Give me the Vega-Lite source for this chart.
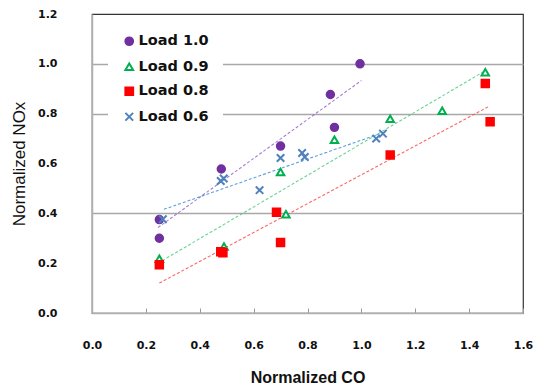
{
  "$schema": "https://vega.github.io/schema/vega-lite/v6.json",
  "autosize": {"type": "none"},
  "padding": {"left": 92, "top": 14, "right": 16, "bottom": 72},
  "width": 431,
  "height": 299,
  "background": "white",
  "config": {
    "view": {"stroke": "#333", "strokeWidth": 1.2},
    "axis": {"labelFont": "DejaVu Sans", "labelFontWeight": "bold", "labelFontSize": 11, "labelColor": "#111",
             "titleFont": "Liberation Sans", "titleFontWeight": "normal", "titleColor": "#111", "titleFontSize": 17,
             "domainColor": "#b0b0b0", "domainWidth": 1.5},
    "legend": {"orient": "none", "legendX": 16, "legendY": 6, "padding": 14, "fillColor": "white",
               "labelFont": "DejaVu Sans", "labelFontWeight": "bold", "labelFontSize": 14.5, "labelColor": "#111",
               "rowPadding": 8.5, "labelOffset": 2, "symbolSize": 60, "symbolStrokeWidth": 2}
  },
  "datasets": {
    "pts": [
      {"Load": "Load 1.0", "co": 0.25, "nox": 0.375},
      {"Load": "Load 1.0", "co": 0.25, "nox": 0.30},
      {"Load": "Load 1.0", "co": 0.48, "nox": 0.578},
      {"Load": "Load 1.0", "co": 0.70, "nox": 0.67},
      {"Load": "Load 1.0", "co": 0.885, "nox": 0.877},
      {"Load": "Load 1.0", "co": 0.90, "nox": 0.745},
      {"Load": "Load 1.0", "co": 0.995, "nox": 1.0},
      {"Load": "Load 0.9", "co": 0.25, "nox": 0.218},
      {"Load": "Load 0.9", "co": 0.49, "nox": 0.267},
      {"Load": "Load 0.9", "co": 0.70, "nox": 0.566},
      {"Load": "Load 0.9", "co": 0.72, "nox": 0.396},
      {"Load": "Load 0.9", "co": 0.90, "nox": 0.695},
      {"Load": "Load 0.9", "co": 1.107, "nox": 0.78},
      {"Load": "Load 0.9", "co": 1.30, "nox": 0.812},
      {"Load": "Load 0.9", "co": 1.46, "nox": 0.966},
      {"Load": "Load 0.8", "co": 0.25, "nox": 0.194},
      {"Load": "Load 0.8", "co": 0.478, "nox": 0.246},
      {"Load": "Load 0.8", "co": 0.486, "nox": 0.242},
      {"Load": "Load 0.8", "co": 0.685, "nox": 0.404},
      {"Load": "Load 0.8", "co": 0.70, "nox": 0.283},
      {"Load": "Load 0.8", "co": 1.107, "nox": 0.634},
      {"Load": "Load 0.8", "co": 1.46, "nox": 0.921},
      {"Load": "Load 0.8", "co": 1.478, "nox": 0.768},
      {"Load": "Load 0.6", "co": 0.263, "nox": 0.376},
      {"Load": "Load 0.6", "co": 0.478, "nox": 0.53},
      {"Load": "Load 0.6", "co": 0.489, "nox": 0.54},
      {"Load": "Load 0.6", "co": 0.622, "nox": 0.493},
      {"Load": "Load 0.6", "co": 0.70, "nox": 0.622},
      {"Load": "Load 0.6", "co": 0.78, "nox": 0.642},
      {"Load": "Load 0.6", "co": 0.79, "nox": 0.626},
      {"Load": "Load 0.6", "co": 1.055, "nox": 0.70},
      {"Load": "Load 0.6", "co": 1.08, "nox": 0.72}
    ],
    "trend": [
      {"Trend": "1.0", "co": 0.245, "nox": 0.343},
      {"Trend": "1.0", "co": 1.0, "nox": 0.933},
      {"Trend": "0.9", "co": 0.245, "nox": 0.20},
      {"Trend": "0.9", "co": 1.45, "nox": 0.966},
      {"Trend": "0.8", "co": 0.25, "nox": 0.12},
      {"Trend": "0.8", "co": 1.475, "nox": 0.83},
      {"Trend": "0.6", "co": 0.267, "nox": 0.416},
      {"Trend": "0.6", "co": 1.067, "nox": 0.719}
    ]
  },
  "encoding": {
    "x": {"field": "co", "type": "quantitative",
          "scale": {"domain": [0, 1.6], "nice": false, "zero": false},
          "axis": {"title": "Normalized CO", "values": [0, 0.2, 0.4, 0.6, 0.8, 1.0, 1.2, 1.4, 1.6], "format": ".1f",
                   "grid": false, "ticks": true, "tickSize": -5, "tickColor": "#999", "labelPadding": 31, "labelFlush": false,
                   "titlePadding": 19, "titleFontWeight": "bold", "titleFontSize": 16}},
    "y": {"field": "nox", "type": "quantitative",
          "scale": {"domain": [0, 1.2], "nice": false},
          "axis": {"title": "Normalized NOx", "values": [0, 0.2, 0.4, 0.6, 0.8, 1.0, 1.2], "format": ".1f",
                   "ticks": false, "labelPadding": 35, "titlePadding": 9, "labelFlush": false,
                   "grid": true, "gridColor": "#a8a8a8", "gridWidth": 1.5,
                   "gridOpacity": {"condition": {"test": "abs(datum.value-0.4)<0.01 || abs(datum.value-0.8)<0.01 || abs(datum.value-1.0)<0.01", "value": 1}, "value": 0}}}
  },
  "layer": [
    {
      "data": {"name": "trend"},
      "mark": {"type": "line", "strokeWidth": 1.1, "strokeDash": [3, 2], "opacity": 0.85},
      "encoding": {
        "color": {"field": "Trend", "type": "nominal",
                  "scale": {"domain": ["1.0", "0.9", "0.8", "0.6"], "range": ["#9a66cc", "#4fcc80", "#ff4a4a", "#3f8fd4"]},
                  "legend": null}
      }
    },
    {
      "data": {"name": "pts"},
      "mark": {"type": "point", "strokeWidth": 2, "opacity": 1, "size": 56},
      "encoding": {
        "shape": {"field": "Load", "type": "nominal", "title": null,
                  "scale": {"domain": ["Load 1.0", "Load 0.9", "Load 0.8", "Load 0.6"],
                            "range": ["circle", "triangle-up", "square", "M-1,-1L1,1M-1,1L1,-1"]}},
        "stroke": {"field": "Load", "type": "nominal", "title": null,
                   "scale": {"domain": ["Load 1.0", "Load 0.9", "Load 0.8", "Load 0.6"],
                             "range": ["#7030a0", "#00b050", "#ff0000", "#4f81bd"]}},
        "fill": {"field": "Load", "type": "nominal", "title": null,
                 "scale": {"domain": ["Load 1.0", "Load 0.9", "Load 0.8", "Load 0.6"],
                           "range": ["#7030a0", "#ffffff", "#ff0000", "transparent"]}}
      }
    }
  ]
}
